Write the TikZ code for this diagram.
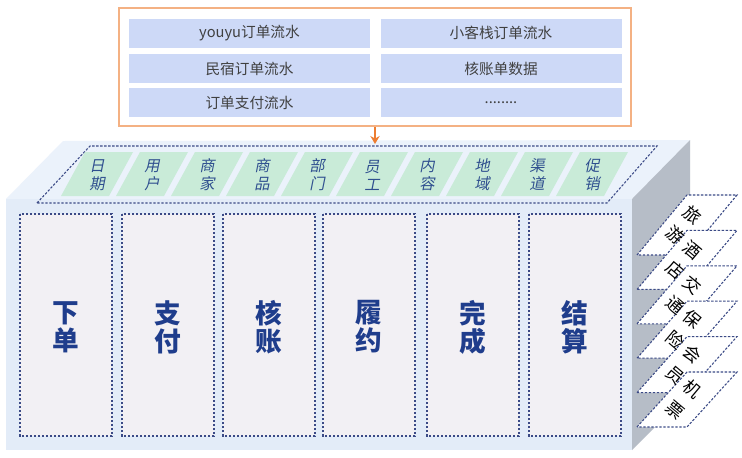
\documentclass[tikz,border=0pt]{standalone}
\usepackage{fontspec}
\setmainfont{Noto Sans CJK SC}
\newfontfamily\slantcjk[FakeSlant=0.2]{Noto Sans CJK SC}
\usetikzlibrary{arrows.meta}
\definecolor{orangeb}{HTML}{F4B183}
\definecolor{orangea}{HTML}{ED7D31}
\definecolor{cellblue}{HTML}{CDD9F7}
\definecolor{celltext}{HTML}{404040}
\definecolor{topface}{HTML}{EBF2FB}
\definecolor{frontface}{HTML}{E3ECF8}
\definecolor{sideface}{HTML}{B6BDC7}
\definecolor{navyline}{HTML}{3B4A86}
\definecolor{tilegreen}{HTML}{C9EBD8}
\definecolor{tiletext}{HTML}{2F4F8F}
\definecolor{bigtext}{HTML}{1F3D8C}
\definecolor{stagefill}{HTML}{F2F0F4}
\begin{document}
\begin{tikzpicture}[x=0.75pt,y=-0.75pt,
  navydash/.style={draw=navyline,line width=0.8pt,dash pattern=on 1.8pt off 1.2pt},
  cellbox/.style={fill=cellblue},
  celllabel/.style={text=celltext,font=\fontsize{11}{13}\selectfont,inner sep=0},
  tilelabel/.style={text=tiletext,font=\fontsize{11.5}{13.5}\selectfont\slantcjk,align=center,inner sep=0},
  stagebox/.style={navydash,fill=stagefill},
  stagelabel/.style={text=bigtext,font=\fontsize{20}{21}\selectfont\bfseries,align=center,inner sep=0},
  sidelabel/.style={text=black,font=\fontsize{13}{20}\selectfont,align=center,inner sep=0}
]
\useasboundingbox (0,0) rectangle (742,457);
\fill[white] (0,0) rectangle (742,457);

% source box
\node[draw=orangeb,line width=1.5pt,minimum width=384pt,minimum height=88.5pt,inner sep=0] (src) at (375,67) {};
\foreach \x/\y/\t [count=\k] in {
  249.5/33/{youyu订单流水},
  249.5/68.5/{民宿订单流水},
  249.5/102.5/{订单支付流水},
  501/33/{小客栈订单流水},
  501/68.5/{核账单数据},
  501/102.5/{........}}
{
  \fill[cellbox] (\x-120.5,\y-14.5) rectangle (\x+120.5,\y+14.5);
  \node[celllabel] (cell\k) at (\x,\y) {\t};
}

% 3D block
\fill[topface] (6,199) -- (63,141) -- (690,140) -- (632,199) -- cycle;
\fill[frontface] (6,199) rectangle (632,450);
\fill[sideface] (632,199) -- (690,140) -- (690,392) -- (632,450) -- cycle;

% arrow
\coordinate (arrowend) at (375,144);
\draw[orangea,line width=1.3pt,-{Stealth[length=6pt,width=7pt]}] (src.south) -- (arrowend);

% dimension band
\draw[navydash] (37,203) -- (90,146) -- (657,146) -- (607,203) -- cycle;
\foreach \t [count=\i from 0] in {{日\\期},{用\\户},{商\\家},{商\\品},{部\\门},{员\\工},{内\\容},{地\\域},{渠\\道},{促\\销}}
{
  \pgfmathsetmacro\cx{97+55*\i}
  \fill[tilegreen] (\cx-36,196) -- (\cx-12,152) -- (\cx+36,152) -- (\cx+12,196) -- cycle;
  \node[tilelabel] (tile\i) at (\cx,175) {\t};
}

% stages
\foreach \sx/\t [count=\i] in {20/{下\\单},122/{支\\付},223/{核\\账},323/{履\\约},427/{完\\成},529/{结\\算}}
{
  \path[stagebox] (\sx,214) rectangle (\sx+92,436);
  \node[stagelabel] (stage\i) at (\sx+46,327) {\t};
}

% side sheets
\foreach \j in {0,...,5}
{
  \pgfmathsetmacro\yt{195+35.4*\j}
  \pgfmathsetmacro\yb{255+34.4*\j}
  \path[navydash,fill=white] (637,\yb) -- (687,\yt) -- (737,\yt) -- (687,\yb) -- cycle;
}
\foreach \t [count=\j from 0] in {{旅\\游},{酒\\店},{交\\通},{保\\险},{会\\员},{机\\票}}
{
  \pgfmathsetmacro\ym{(195+35.4*\j+255+34.4*\j)/2}
  \node[sidelabel,rotate=-40] (side\j) at (684,\ym) {\t};
}
\end{tikzpicture}
\end{document}
